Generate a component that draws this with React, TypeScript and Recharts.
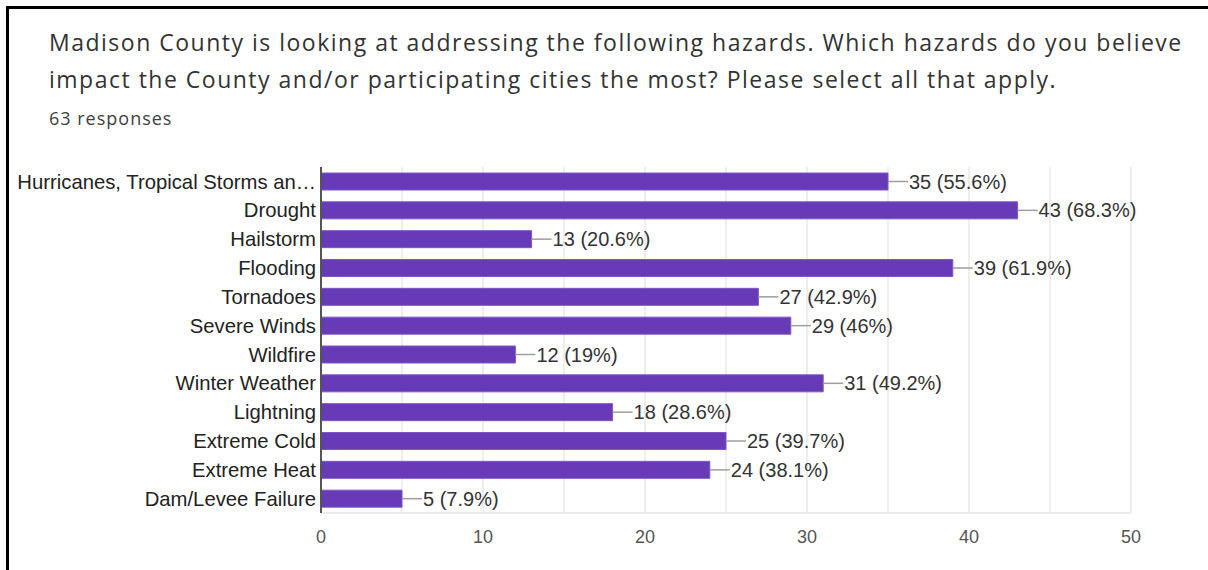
import React from 'react'
import { BarChart, Bar, XAxis, YAxis, CartesianGrid, LabelList } from 'recharts'

const hazards = [
  'Hurricanes, Tropical Storms an…',
  'Drought',
  'Hailstorm',
  'Flooding',
  'Tornadoes',
  'Severe Winds',
  'Wildfire',
  'Winter Weather',
  'Lightning',
  'Extreme Cold',
  'Extreme Heat',
  'Dam/Levee Failure',
]
const counts = [35, 43, 13, 39, 27, 29, 12, 31, 18, 25, 24, 5]
const percents = ['55.6', '68.3', '20.6', '61.9', '42.9', '46', '19', '49.2', '28.6', '39.7', '38.1', '7.9']
const xTicks = [0, 5, 10, 15, 20, 25, 30, 35, 40, 45, 50]

const data = hazards.map((name, i) => ({ name, count: counts[i], pct: percents[i] }))

const labelFont = '"Liberation Sans", Arial, sans-serif'

function ValueLabel(props: any) {
  const x = Number(props.x)
  const y = Number(props.y)
  const w = Number(props.width)
  const h = Number(props.height)
  const i = props.index
  const endX = x + w
  const midY = y + h / 2
  return (
    <g>
      <line x1={endX} y1={midY} x2={endX + 20} y2={midY} stroke="#9e9e9e" strokeWidth={1.5} />
      <text x={endX + 21} y={midY} dominantBaseline="central" fontSize={20} fill="#333" fontFamily={labelFont}>
        {`${data[i].count} (${data[i].pct}%)`}
      </text>
    </g>
  )
}

export default function App() {
  return (
    <div style={{ position: 'fixed', left: 0, top: 0, width: 1208, height: 570, background: '#fff', overflow: 'hidden' }}>
      <div style={{ position: 'absolute', left: 6, top: 6, right: -20, bottom: -20, borderLeft: '3px solid #000', borderTop: '3px solid #000' }} />
      <div style={{ position: 'absolute', left: 49, top: 24, fontFamily: '"Open Sans", sans-serif', fontSize: 23, letterSpacing: 1.5, lineHeight: '37px', color: '#333', whiteSpace: 'nowrap' }}>
        <div>Madison County is looking at addressing the following hazards. Which hazards do you believe</div>
        <div>impact the County and/or participating cities the most? Please select all that apply.</div>
      </div>
      <div style={{ position: 'absolute', left: 49, top: 108, fontFamily: '"Open Sans", sans-serif', fontSize: 18, letterSpacing: 1, lineHeight: '20px', color: '#3c4043' }}>
        63 responses
      </div>
      <div style={{ position: 'absolute', left: 0, top: 0 }}>
        <BarChart width={1208} height={570} data={data} layout="vertical" margin={{ top: 167, right: 77, bottom: 0, left: 0 }}>
          <CartesianGrid horizontal={false} stroke="#e8e8e8" strokeWidth={1.5} />
          <XAxis
            type="number"
            domain={[0, 50]}
            ticks={xTicks}
            tickFormatter={(v: number) => (v % 10 === 0 ? String(v) : '')}
            height={57}
            axisLine={{ stroke: '#e6e6e6', strokeWidth: 1.5 }}
            tickLine={false}
            tickSize={0}
            tickMargin={17}
            tick={{ fontSize: 18, fill: '#555', fontFamily: labelFont }}
          />
          <XAxis xAxisId="top" orientation="top" type="number" domain={[0, 50]} height={0} tick={false} tickLine={false} axisLine={{ stroke: '#e6e6e6', strokeWidth: 1.5 }} />
          <YAxis
            type="category"
            dataKey="name"
            width={321}
            axisLine={{ stroke: '#555', strokeWidth: 2 }}
            tickLine={false}
            tickSize={0}
            tickMargin={5}
            interval={0}
            tick={{ fontSize: 20.3, fill: '#222', fontFamily: labelFont }}
          />
          <Bar dataKey="count" fill="#673ab7" stroke="#7e57c2" strokeWidth={1} barSize={17} isAnimationActive={false}>
            <LabelList dataKey="count" content={ValueLabel} />
          </Bar>
        </BarChart>
      </div>
    </div>
  )
}
